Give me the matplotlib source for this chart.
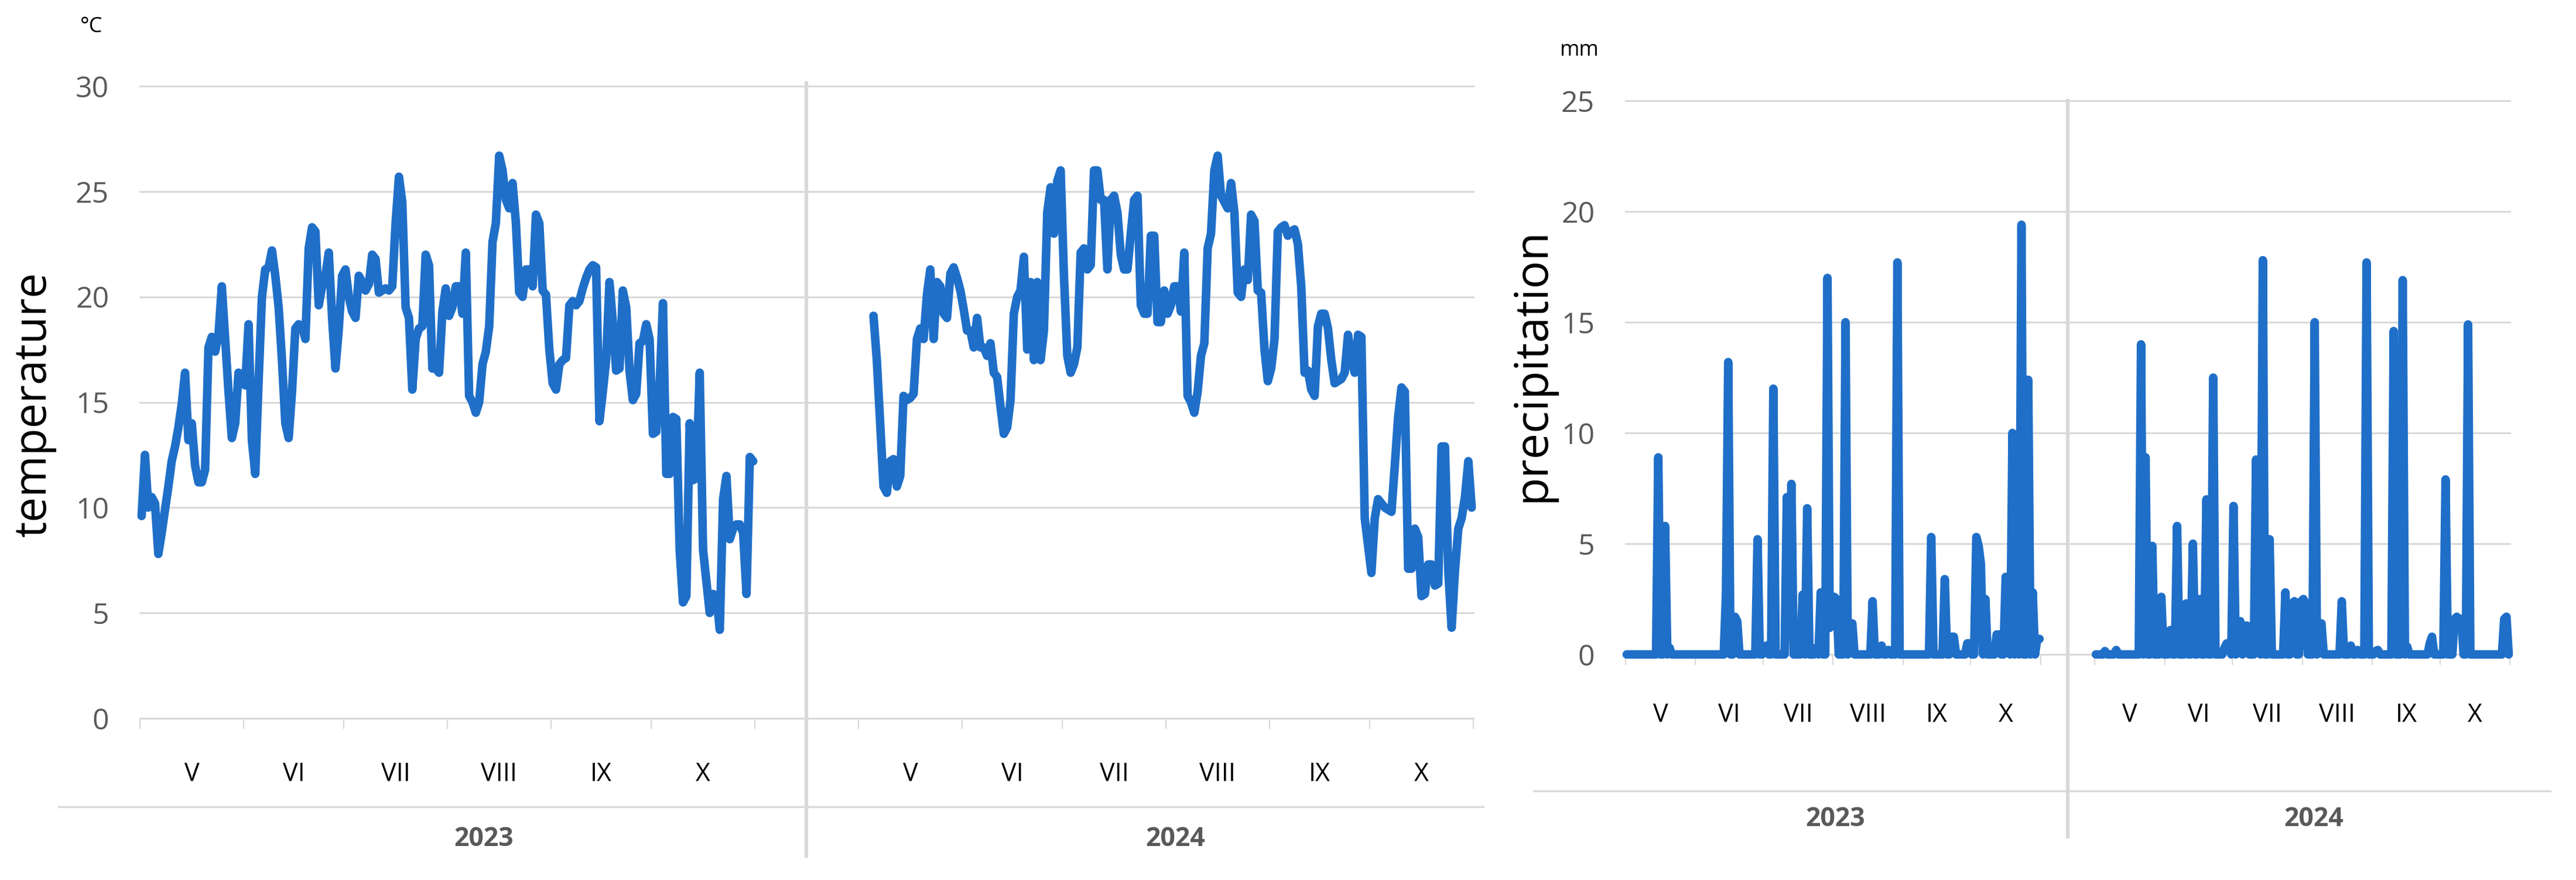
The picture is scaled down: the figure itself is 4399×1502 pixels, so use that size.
import numpy as np
import matplotlib
matplotlib.use("Agg")
import matplotlib.pyplot as plt
from matplotlib.lines import Line2D

plt.rcParams['font.family'] = ['Open Sans', 'DejaVu Sans']

W, H = 4399, 1502

months = ['V', 'VI', 'VII', 'VIII', 'IX', 'X']
month_days = [31, 30, 31, 31, 30, 31]
years = ['2023', '2024']
nan = np.nan

# daily mean temperature, 1 May - 31 Oct (one row per month)
temp_2023 = [
    9.6, 12.5, 10.0, 10.5, 10.2, 7.8, 8.8, 9.9, 11.0, 12.2, 12.9, 13.8, 14.9, 16.4, 13.2, 14.0,
    12.0, 11.2, 11.2, 11.8, 17.6, 18.1, 17.4, 18.2, 20.5, 18.0, 15.5, 13.3, 14.0, 16.4, 16.3,
    15.8, 18.7, 13.2, 11.6, 16.0, 20.0, 21.3, 21.4, 22.2, 21.0, 19.5, 17.0, 14.0, 13.3, 15.5,
    18.5, 18.7, 18.6, 18.0, 22.3, 23.3, 23.1, 19.6, 20.5, 21.0, 22.1, 19.0, 16.6, 18.5, 21.0,
    21.3, 20.0, 19.3, 19.0, 21.0, 20.7, 20.3, 20.6, 22.0, 21.8, 20.2, 20.3, 20.4, 20.3, 20.5, 23.5,
    25.7, 24.5, 19.5, 19.0, 15.6, 18.0, 18.5, 18.6, 22.0, 21.5, 16.6, 16.6, 16.4, 19.3, 20.4,
    19.1, 19.5, 20.5, 20.5, 19.2, 22.1, 15.3, 15.0, 14.5, 15.0, 16.8, 17.4, 18.6, 22.6, 23.5, 26.7,
    26.0, 24.6, 24.2, 25.4, 23.5, 20.2, 20.0, 21.3, 21.3, 20.5, 23.9, 23.5, 20.3, 20.1, 17.5,
    15.9, 15.6, 16.8, 17.0, 17.1, 19.6, 19.8, 19.6, 19.8, 20.4, 20.9, 21.3, 21.5, 21.4, 14.1,
    15.5, 17.0, 20.7, 18.8, 16.5, 16.6, 20.3, 19.5, 16.5, 15.1, 15.4, 17.8, 17.9, 18.7, 18.0,
    13.5, 13.6, 15.8, 19.7, 11.6, 11.6, 14.3, 14.2, 8.0, 5.5, 5.8, 14.0, 11.3, 11.4, 16.4, 8.0,
    6.5, 5.0, 5.9, 5.8, 4.2, 10.4, 11.5, 8.5, 9.0, 9.2, 9.2, 8.8, 5.9, 12.4, 12.2,
]
temp_2024 = [
    nan, nan, nan, nan, 19.1, 17.0, 14.0, 11.0, 10.7, 12.2, 12.3, 11.0, 11.5, 15.3, 15.1, 15.2,
    15.4, 18.0, 18.5, 18.0, 20.1, 21.3, 18.0, 20.7, 20.5, 19.2, 19.0, 21.1, 21.4, 20.9, 20.3,
    19.4, 18.4, 18.4, 17.6, 19.0, 17.6, 17.6, 17.2, 17.8, 16.4, 16.2, 14.8, 13.5, 13.8, 15.1,
    19.2, 20.0, 20.3, 21.9, 17.5, 20.7, 17.0, 20.7, 17.0, 18.4, 24.0, 25.2, 23.0, 25.5, 26.0,
    21.0, 17.2, 16.4, 16.8, 17.6, 22.1, 22.3, 21.3, 21.5, 26.0, 26.0, 24.6, 24.6, 21.3, 24.6, 24.8,
    24.0, 22.0, 21.3, 21.3, 23.0, 24.6, 24.8, 19.6, 19.2, 19.2, 22.9, 22.9, 18.8, 18.8, 20.3,
    19.2, 19.6, 20.5, 20.5, 19.3, 22.1, 15.3, 15.0, 14.5, 15.5, 17.2, 17.8, 22.3, 23.0, 26.0, 26.7,
    24.8, 24.5, 24.2, 25.4, 24.0, 20.2, 20.0, 21.3, 20.8, 23.9, 23.6, 20.3, 20.2, 17.5, 16.0,
    16.6, 18.0, 23.1, 23.3, 23.4, 22.9, 23.1, 23.2, 22.5, 20.5, 16.4, 16.5, 15.6, 15.3, 18.6,
    19.2, 19.2, 18.5, 17.0, 15.9, 16.0, 16.1, 16.4, 18.2, 17.0, 16.4, 18.2, 18.1, 9.5, 8.2,
    6.9, 9.5, 10.4, 10.2, 10.0, 9.9, 9.8, 12.0, 14.3, 15.7, 15.5, 7.1, 7.1, 9.0, 8.6, 5.8,
    5.9, 7.3, 7.3, 6.3, 6.4, 12.9, 12.9, 7.0, 4.3, 7.0, 9.0, 9.5, 10.5, 12.2, 10.0,
]

# daily precipitation (mm), 1 May - 31 Oct
prec_2023 = [
    0, 0, 0, 0, 0, 0, 0, 0, 0, 0, 0, 0, 0, 0, 8.9, 0, 0, 5.8, 0, 0.3, 0, 0, 0, 0, 0, 0, 0, 0, 0, 0, 0,
    0, 0, 0, 0, 0, 0, 0, 0, 0, 0, 0, 0, 0, 2.7, 13.2, 0, 0, 1.7, 1.5, 0, 0, 0, 0, 0, 0, 0, 0, 5.2, 0, 0,
    0.2, 0.4, 0, 0, 12.0, 0, 0, 0, 0, 0, 7.1, 1.5, 7.7, 0, 0, 0, 0, 2.7, 0, 6.6, 0, 0, 0, 0.3, 0,
    2.8, 0, 0, 17.0, 1.2, 2.6,
    2.6, 2.5, 0, 0, 0, 15.0, 0, 1.4, 1.4, 0, 0, 0, 0, 0, 0, 0, 0, 2.4, 0, 0, 0, 0.4, 0, 0, 0.2,
    0, 0, 0, 17.7, 0, 0,
    0, 0, 0, 0, 0, 0, 0, 0, 0, 0, 0, 0, 5.3, 0, 0, 0, 0, 0, 3.4, 0, 0, 0.8, 0.8, 0, 0, 0, 0, 0, 0.5, 0.5,
    0, 0, 5.3, 4.9, 4.1, 0, 2.5, 0, 0, 0, 0, 0.9, 0.9, 0, 0, 3.5, 3.5, 0, 10.0, 0, 0.3, 0, 19.4,
    0, 0, 12.4, 0, 2.8, 0, 0.7, 0.7,
]
prec_2024 = [
    0, 0, 0, 0, 0.15, 0, 0, 0, 0, 0.2, 0, 0, 0, 0, 0, 0, 0, 0, 0, 0, 14.0, 0, 8.9, 0, 0, 4.9, 0, 0,
    0, 2.6, 0,
    0, 0, 1.1, 0, 0, 5.8, 0, 0, 0, 2.3, 0, 0, 5.0, 0, 0, 2.5, 0, 0, 7.0, 0, 0, 12.5, 0, 0, 0, 0,
    0.3, 0.5, 0.5, 0,
    6.7, 0, 1.5, 1.5, 0, 1.3, 1.3, 0, 0, 0, 8.8, 1.0, 0, 17.8, 0, 0, 5.2, 0, 0, 0, 0, 0, 0, 2.8, 0,
    0, 2.3, 2.4, 0, 0, 2.4,
    2.5, 2.3, 0, 0, 0, 15.0, 0, 1.4, 1.4, 0, 0, 0, 0, 0, 0, 0, 0, 2.4, 0, 0, 0, 0.4, 0, 0, 0.2,
    0, 0, 0, 17.7, 0, 0,
    0, 0.15, 0.2, 0, 0, 0, 0, 0, 0, 14.6, 0, 0, 0, 16.9, 0, 0.35, 0, 0, 0, 0, 0, 0, 0, 0, 0,
    0.5, 0.8, 0, 0, 0,
    0, 0, 7.9, 0, 0, 0, 1.6, 1.7, 1.6, 1.6, 0, 0, 14.9, 0, 0, 0, 0, 0, 0, 0, 0, 0, 0, 0, 0,
    0, 0, 0, 1.6, 1.7, 0,
]

BLUE = '#1f6fc8'
GRID = '#d9d9d9'
TICK = '#595959'


def box(x0, y0, x1, y1):
    # pixel box of the reference -> figure fraction rect
    return [x0 / W, 1 - y1 / H, (x1 - x0) / W, (y1 - y0) / H]


def panel(ax, s23, s24, gap, ymax, ystep, sep_rng, year_x, month_y, year_y):
    edges = np.concatenate([[0], np.cumsum(month_days)])
    n = edges[-1]
    off = n + gap
    x23 = np.arange(len(s23)) + 0.5
    x24 = off + np.arange(len(s24)) + 0.5
    ax.set_xlim(0, off + n)
    ax.set_ylim(0, ymax)
    for s in ax.spines.values():
        s.set_visible(False)
    yt = np.arange(0, ymax + 1, ystep)
    for v in yt:
        ax.axhline(v, color=GRID, lw=2.2, zorder=0, clip_on=False)
    ax.set_yticks(yt)
    ax.tick_params(axis='y', length=0, pad=38, labelsize=36, labelcolor=TICK)
    ax.set_xticks(np.concatenate([edges, edges + off]))
    ax.set_xticklabels([])
    ax.tick_params(axis='x', length=13, width=1.6, color=GRID)

    ax.plot(x23, s23, color=BLUE, lw=10.5, solid_joinstyle='round',
            solid_capstyle='round', clip_on=False, zorder=3)
    ax.plot(x24, s24, color=BLUE, lw=10.5, solid_joinstyle='round',
            solid_capstyle='round', clip_on=False, zorder=3)

    tr = ax.get_xaxis_transform()
    centers = (edges[:-1] + edges[1:]) / 2
    for o in (0, off):
        for c, m in zip(centers, months):
            ax.text(c + o, month_y, m, transform=tr, ha='center', va='center',
                    fontsize=31, color='black')
    for xx, yr in zip(year_x, years):
        ax.text(xx, year_y, yr, transform=tr, ha='center', va='center',
                fontsize=32, color=TICK, fontweight='bold')
    sep = (n + off) / 2
    ax.plot([sep, sep], sep_rng, transform=tr, color=GRID, lw=4.5, clip_on=False)


fig = plt.figure(figsize=(W / 100, H / 100), dpi=100)

# temperature panel
ax_t = fig.add_axes(box(239, 147, 2516, 1226))
panel(ax_t, temp_2023, temp_2024, 31, 30, 5,
      sep_rng=[(1226 - 1461) / 1079, (1226 - 142) / 1079],
      year_x=[102.9, 309.9], month_y=(1226 - 1322) / 1079,
      year_y=(1226 - 1432) / 1079)
fig.add_artist(Line2D([100 / W, 2533 / W], [1 - 1377 / H] * 2, color=GRID, lw=2.5))
fig.text(58 / W, 1 - 690 / H, 'temperature', rotation=90, ha='center', va='center',
         fontsize=55, color='black')
fig.text(156 / W, 1 - 46 / H, '°C', ha='center', va='center', fontsize=26, color='black')

# precipitation panel
ax_p = fig.add_axes(box(2776, 172, 4286, 1117))
panel(ax_p, prec_2023, prec_2024, 24, 25, 5,
      sep_rng=[(1117 - 1428) / 945, (1117 - 172) / 945],
      year_x=[92.9, 305.0], month_y=(1117 - 1221) / 945,
      year_y=(1117 - 1399) / 945)
fig.add_artist(Line2D([2619 / W, 4355 / W], [1 - 1350 / H] * 2, color=GRID, lw=2.5))
fig.text(2617 / W, 1 - 623 / H, 'precipitation', rotation=90, ha='center', va='center',
         fontsize=57, color='black')
fig.text(2697 / W, 1 - 86 / H, 'mm', ha='center', va='center', fontsize=26, color='black')

fig.savefig('out.png', dpi=100, facecolor='white')
